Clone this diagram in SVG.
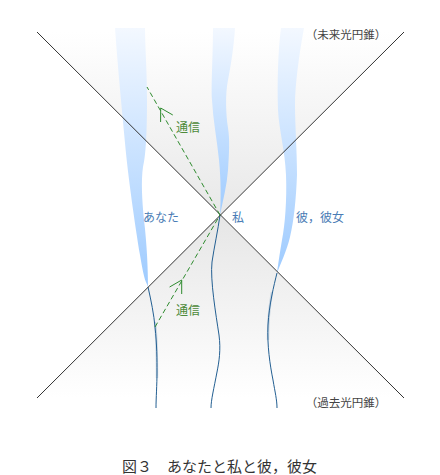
<svg xmlns="http://www.w3.org/2000/svg" width="440" height="475" viewBox="0 0 440 475">
<style>
text{font-family:"Noto Sans CJK JP","Noto Sans",sans-serif}
.cone{stroke:#333333;stroke-width:1;fill:none}
.band{fill:url(#bandGrad)}
.wl{fill:none;stroke:#235f92;stroke-width:1}
.haze{fill:none;stroke:#a9bfd4;stroke-width:2.4;opacity:0.55}
.sig{fill:none;stroke:#2e8b2e;stroke-width:1;stroke-dasharray:5 3}
.head{fill:none;stroke:#2e8b2e;stroke-width:1}
.lbl{font-size:12px;fill:#4a7cb5}
.sigl{font-size:12px;fill:#4d8a3a}
.cl{font-size:11.5px;fill:#444;text-anchor:middle}
.cap{font-size:15px;fill:#333}
</style>
<defs>
<linearGradient id="futGrad" gradientUnits="userSpaceOnUse" x1="0" y1="32" x2="0" y2="215">
<stop offset="0" stop-color="#ffffff"/>
<stop offset="1" stop-color="#e8e8e8"/>
</linearGradient>
<linearGradient id="pastGrad" gradientUnits="userSpaceOnUse" x1="0" y1="215" x2="0" y2="398">
<stop offset="0" stop-color="#e6e6e6"/>
<stop offset="1" stop-color="#ffffff"/>
</linearGradient>
<linearGradient id="bandGrad" x1="0" y1="0" x2="0" y2="1">
<stop offset="0" stop-color="#f3f8ff"/>
<stop offset="1" stop-color="#9ecbff"/>
</linearGradient>
</defs>
<rect width="440" height="475" fill="#ffffff"/>
<g id="lightcones">
<polygon points="37,32 404,32 220,215" fill="url(#futGrad)"/>
<polygon points="220,215 404,398 37,398" fill="url(#pastGrad)"/>
</g>
<g id="worldline-anata">
<path class="band" d="M115,28 C118,70 122,110 125,143 S135,225 140,255 S146,280 148,287 C148,270 147,245 144,220 C142,200 141,180 143,167 C146,155 147,130 147,100 C147,70 145,45 145,28 Z"/>
<path class="haze" d="M155,322 C157,340 157,360 157,378"/>
<path class="wl" d="M148,287 C151,300 154,315 155,327 C157,345 157,360 157,372 C157,385 156,398 156,408"/>
</g>
<g id="worldline-watashi">
<path class="band" d="M213,28 C213,55 211,85 212,100 C213,120 217,140 219,160 C221,180 221,200 220,215 C223,200 227,185 228,170 C229,155 230,140 228,128 C226,115 225,95 228,80 C231,65 234,45 235,28 Z"/>
<path class="wl" d="M220,215 C218,230 214,248 212,262 C210,280 216,315 219,335 C221,350 219,362 217,372 C214,388 211,400 211,408"/>
</g>
<g id="worldline-kare">
<path class="band" d="M281,28 C278,50 277,85 278,110 C279,130 285,150 286,175 C287,200 285,225 282,240 C280,252 278,265 277,273 C280,265 287,250 290,237 C294,220 296,200 297,175 C297,150 295,125 295,105 C295,85 299,55 304,28 Z"/>
<path class="haze" d="M272,292 C269,308 268,320 268,340"/>
<path class="wl" d="M277,273 C274,285 269,305 268,325 C267,345 270,365 273,380 C275,392 277,400 277,408"/>
</g>
<g id="connectors">
<line class="cone" x1="37" y1="32" x2="404" y2="398"/>
<line class="cone" x1="404" y1="32" x2="37" y2="398"/>
<line class="sig" x1="220" y1="215" x2="147" y2="87"/>
<polyline class="head" points="160.6,122 160.7,108 172.8,115"/>
<line class="sig" x1="155" y1="327" x2="220" y2="215"/>
<polyline class="head" points="169.6,287 181.7,280 181.7,294"/>
</g>
<g id="labels">
<text class="cl" x="346" y="38.5">（未来光円錐）</text>
<text class="cl" x="346" y="406.5">（過去光円錐）</text>
<text class="sigl" x="176" y="131.5">通信</text>
<text class="sigl" x="176" y="314.5">通信</text>
<text class="lbl" x="143" y="221.5">あなた</text>
<text class="lbl" x="232" y="221.5">私</text>
<text class="lbl" x="296" y="221.5">彼，彼女</text>
<text class="cap" x="122" y="472">図３　あなたと私と彼，彼女</text>
</g>
</svg>
